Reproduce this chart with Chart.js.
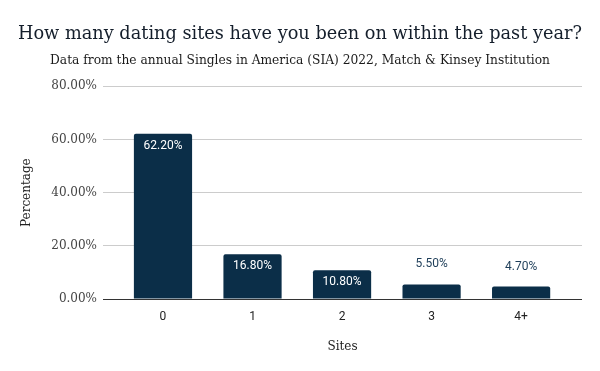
<!DOCTYPE html>
<html>
<head>
<meta charset="utf-8">
<script src="https://cdn.jsdelivr.net/npm/chart.js@4.4.1/dist/chart.umd.min.js"></script>
<style>
  html, body { margin: 0; padding: 0; background: #ffffff; }
  #wrap { width: 600px; height: 371px; position: relative; }
</style>
</head>
<body>
<div id="wrap"><canvas id="c" width="600" height="371"></canvas></div>
<script>
const categories = ['0', '1', '2', '3', '4+'];
const percentages = [62.2, 16.8, 10.8, 5.5, 4.7];
const yTicks = [0, 20, 40, 60, 80];

const titleText = 'How many dating sites have you been on within the past year?';
const subtitleText = 'Data from the annual Singles in America (SIA) 2022, Match & Kinsey Institution';

const BAR = '#0b2e48';
const SERIF = '"DejaVu Serif", serif';
const SANS = 'Roboto, "Noto Sans", sans-serif';

const valueLabels = {
  id: 'valueLabels',
  afterDatasetsDraw(chart) {
    const ctx = chart.ctx;
    const meta = chart.getDatasetMeta(0);
    ctx.save();
    ctx.font = '12px ' + SANS;
    ctx.textAlign = 'center';
    ctx.textBaseline = 'middle';
    meta.data.forEach((el, i) => {
      const v = percentages[i];
      const txt = v.toFixed(2) + '%';
      const h = el.base - el.y;
      if (h > 22) {
        ctx.fillStyle = '#ffffff';
        ctx.fillText(txt, el.x, el.y + 12);
      } else {
        ctx.fillStyle = '#1d3d58';
        ctx.fillText(txt, el.x, el.y - 20);
      }
    });
    ctx.restore();
  }
};

new Chart(document.getElementById('c'), {
  type: 'bar',
  data: {
    datasets: [{
      data: percentages.map((v, i) => ({ x: i, y: v })),
      backgroundColor: BAR,
      borderRadius: { topLeft: 2, topRight: 2, bottomLeft: 0, bottomRight: 0 },
      borderSkipped: 'bottom',
      barPercentage: 0.65,
      categoryPercentage: 1.0
    }]
  },
  options: {
    responsive: false,
    animation: false,
    devicePixelRatio: 1,
    layout: { padding: { left: 18, right: 18, top: 0, bottom: 0 } },
    plugins: {
      legend: { display: false },
      tooltip: { enabled: false },
      title: {
        display: true,
        text: titleText,
        color: '#141e2b',
        font: { family: SERIF, size: 18, weight: 'normal' },
        padding: { top: 24, bottom: 8 }
      },
      subtitle: {
        display: true,
        text: subtitleText,
        color: '#1a1a1a',
        font: { family: SERIF, size: 12.25, weight: 'normal' },
        padding: { top: 0, bottom: 18 }
      }
    },
    scales: {
      x: {
        type: 'linear',
        min: -0.67,
        max: 4.68,
        offset: false,
        afterBuildTicks(scale) {
          scale.ticks = categories.map((c, i) => ({ value: i }));
        },
        afterFit(scale) { scale.height = 72; },
        ticks: {
          callback: (v) => categories[v],
          color: '#222222',
          font: { family: SANS, size: 12 },
          padding: 11,
          maxRotation: 0,
          autoSkip: false
        },
        grid: { display: false, drawTicks: false },
        border: { display: false },
        title: {
          display: true,
          text: 'Sites',
          color: '#222222',
          font: { family: SERIF, size: 12 },
          padding: { top: 0, bottom: 17 }
        }
      },
      y: {
        min: 0,
        max: 80,
        afterBuildTicks(scale) {
          scale.ticks = yTicks.map(v => ({ value: v }));
        },
        afterFit(scale) { scale.width = 85; },
        ticks: {
          callback: (v) => v.toFixed(2) + '%',
          color: '#444444',
          font: { family: SERIF, size: 12 },
          padding: 6
        },
        grid: {
          drawTicks: false,
          color: (c) => (c.tick && c.tick.value === 0) ? '#333333' : '#cccccc',
          lineWidth: 1
        },
        border: { display: false },
        title: {
          display: true,
          text: 'Percentage',
          color: '#222222',
          font: { family: SERIF, size: 12 },
          padding: { top: 2, bottom: 0 }
        }
      }
    }
  },
  plugins: [valueLabels]
});
</script>
</body>
</html>
